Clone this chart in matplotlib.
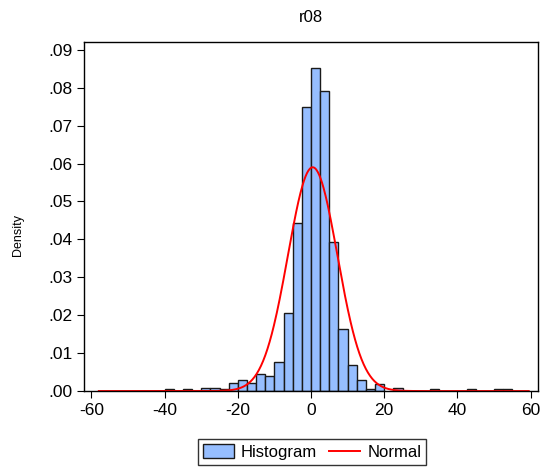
import matplotlib
matplotlib.use("Agg")
import matplotlib.pyplot as plt
import numpy as np
from matplotlib.patches import Patch
from matplotlib.lines import Line2D

plt.rcParams['font.family'] = ['Liberation Sans', 'DejaVu Sans']
plt.rcParams['axes.unicode_minus'] = False

# histogram bins (left edges, width 2.5) and densities
bin_width = 2.5
bin_left = [-40, -35, -30, -27.5, -25, -22.5, -20, -17.5, -15, -12.5, -10,
            -7.5, -5, -2.5, 0, 2.5, 5, 7.5, 10, 12.5, 15, 17.5, 22.5,
            32.5, 42.5, 50, 52.5]
density = [0.0005, 0.0005, 0.0009, 0.0009, 0.0005, 0.0021, 0.0029, 0.0020,
           0.0045, 0.0040, 0.0076, 0.0207, 0.0444, 0.0749, 0.0852, 0.0792,
           0.0392, 0.0163, 0.0069, 0.0028, 0.0005, 0.0018, 0.0009,
           0.0005, 0.0005, 0.0005, 0.0005]

# fitted normal
mu, sigma = 0.45, 6.76
x_min, x_max = -58, 59.5

xticks = [-60, -40, -20, 0, 20, 40, 60]
yticks = [0.00, 0.01, 0.02, 0.03, 0.04, 0.05, 0.06, 0.07, 0.08, 0.09]
ytick_labels = ['.00', '.01', '.02', '.03', '.04', '.05', '.06', '.07', '.08', '.09']

fig = plt.figure(figsize=(5.5, 4.7), dpi=100)
ax = fig.add_axes([0.153, 0.168, 0.825, 0.743])

bar_color = '#96BEFF'
ax.bar(bin_left, density, width=bin_width, align='edge', color=bar_color,
       edgecolor='#1a1a1a', linewidth=1.0)

xs = np.linspace(x_min, x_max, 600)
ys = np.exp(-0.5 * ((xs - mu) / sigma) ** 2) / (sigma * np.sqrt(2 * np.pi))
ax.plot(xs, ys, color='#FF0000', linewidth=1.4)

ax.set_xlim(-62, 62)
ax.set_ylim(0, 0.0921)
ax.set_xticks(xticks)
ax.set_xticklabels([str(t) for t in xticks])
ax.set_yticks(yticks)
ax.set_yticklabels(ytick_labels)
ax.tick_params(direction='out', length=5, width=0.8, labelsize=12.5, colors='black')
for s in ax.spines.values():
    s.set_linewidth(1.0)
    s.set_color('black')

ax.set_title('r08', fontsize=12, pad=14)
fig.text(0.033, 0.50, 'Density', rotation=90, fontsize=9, ha='center', va='center')

handles = [Patch(facecolor=bar_color, edgecolor='#1a1a1a', linewidth=1.0),
           Line2D([0], [0], color='#FF0000', linewidth=1.4)]
fig.legend(handles, ['Histogram', 'Normal'], loc='center', ncol=2,
           bbox_to_anchor=(0.567, 0.038), frameon=True, fancybox=False,
           edgecolor='black', fontsize=12, handlelength=1.9, handleheight=0.9,
           columnspacing=0.7, handletextpad=0.4, borderpad=0.3,
           borderaxespad=0.2)

fig.savefig('out.png', dpi=100)
